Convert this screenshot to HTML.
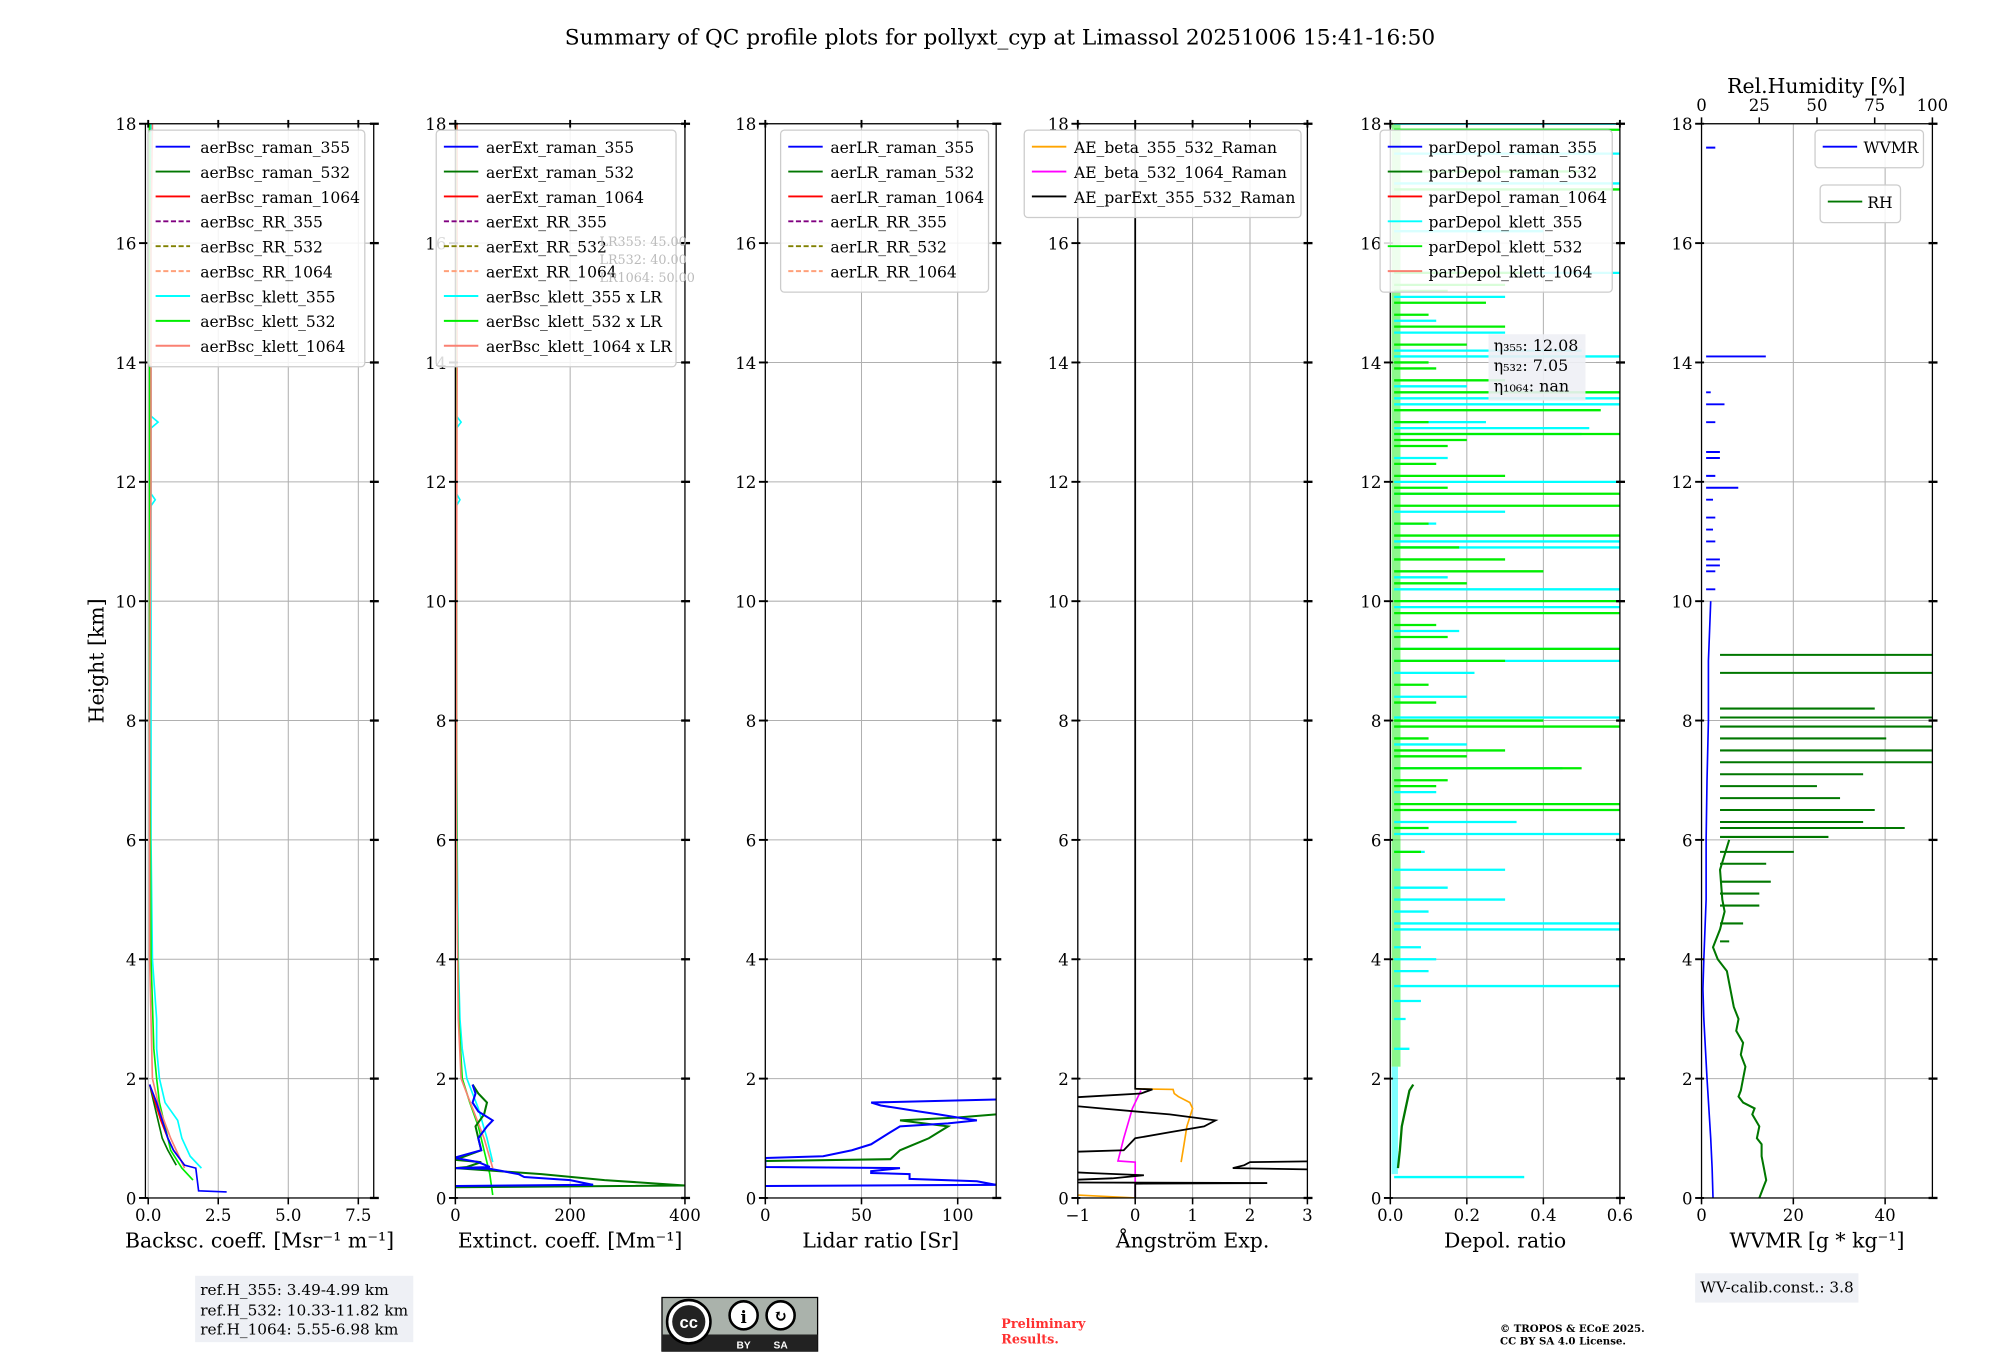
<!DOCTYPE html>
<html><head><meta charset="utf-8"><style>
html,body{margin:0;padding:0;background:#fff;}
svg{display:block;font-family:"DejaVu Serif","Liberation Serif",serif;}
</style></head><body>
<svg id="fig" width="2000" height="1360" viewBox="0 0 1568 1066" preserveAspectRatio="none" xmlns="http://www.w3.org/2000/svg">
<text x="784" y="35" font-size="17" text-anchor="middle">Summary of QC profile plots for pollyxt_cyp at Limassol 20251006 15:41-16:50</text>
<g id="plots"></g>
<text transform="translate(81,518) rotate(-90)" font-size="16" text-anchor="middle">Height [km]</text>
<g>
<rect x="153" y="1000" width="171" height="52" fill="#eef0f5"/>
<text x="157" y="1015" font-size="12">ref.H_355: 3.49-4.99 km</text>
<text x="157" y="1031" font-size="12">ref.H_532: 10.33-11.82 km</text>
<text x="157" y="1046" font-size="12">ref.H_1064: 5.55-6.98 km</text>
</g>
<g>
<rect x="519" y="1017" width="122" height="42" fill="#aab2ab" stroke="#000" stroke-width="1"/>
<rect x="519" y="1046" width="122" height="13" fill="#222"/>
<circle cx="540" cy="1036" r="17" fill="#fff" stroke="#000" stroke-width="2"/>
<circle cx="540" cy="1036" r="13" fill="#222"/>
<text x="540" y="1041" font-size="13" fill="#fff" text-anchor="middle" font-family="Liberation Sans, sans-serif" font-weight="bold">cc</text>
<circle cx="583" cy="1031" r="11" fill="#fff" stroke="#000" stroke-width="2"/>
<text x="583" y="1037" font-size="13" text-anchor="middle" font-weight="bold">i</text>
<circle cx="612" cy="1031" r="11" fill="#fff" stroke="#000" stroke-width="2"/>
<text x="612" y="1036" font-size="13" text-anchor="middle" font-weight="bold">↻</text>
<text x="583" y="1057" font-size="8" fill="#fff" text-anchor="middle" font-family="Liberation Sans, sans-serif" font-weight="bold">BY</text>
<text x="612" y="1057" font-size="8" fill="#fff" text-anchor="middle" font-family="Liberation Sans, sans-serif" font-weight="bold">SA</text>
</g>
<text x="785" y="1041" font-size="10" fill="#ff3030" font-weight="bold">Preliminary</text>
<text x="785" y="1053" font-size="10" fill="#ff3030" font-weight="bold">Results.</text>
<text x="1176" y="1044" font-size="8" font-weight="bold">© TROPOS &amp; ECoE 2025.</text>
<text x="1176" y="1054" font-size="8" font-weight="bold">CC BY SA 4.0 License.</text>
<g>
<rect x="1329" y="998" width="128" height="23" fill="#eef0f5"/>
<text x="1333" y="1013" font-size="12">WV-calib.const.: 3.8</text>
</g>
</svg>
<script>
// ---------- data ----------
const heightTicks=[0,2,4,6,8,10,12,14,16,18];
const bscTicks=[0,2.5,5,7.5]; const bscTickLabels=["0.0","2.5","5.0","7.5"];
const extTicks=[0,200,400]; const lrTicks=[0,50,100]; const aeTicks=[-1,0,1,2,3];
const aeTickLabels=["−1","0","1","2","3"];
const dpTicks=[0,0.2,0.4,0.6]; const dpTickLabels=["0.0","0.2","0.4","0.6"];
const wvTicks=[0,20,40]; const rhTicks=[0,25,50,75,100];

const bsc355H=[0.1,0.12,0.5,0.55,0.8,1.0,1.3,1.6,1.9]; const bsc355V=[2.8,1.8,1.7,1.3,0.9,0.7,0.5,0.3,0.05];
const bsc532H=[0.55,0.8,1.0,1.3,1.6,1.9]; const bsc532V=[1.0,0.7,0.5,0.35,0.2,0.05];
const bsc1064H=[0.55,0.8,1.0,1.3,1.6,1.9]; const bsc1064V=[1.3,0.9,0.7,0.45,0.25,0.05];
const bscK355H=[0.5,0.7,1.0,1.3,1.6,2.0,2.5,3,4,6,8,10,11.6,11.7,11.8,12.9,13.0,13.1,14,16,18];
const bscK355V=[1.9,1.5,1.2,1.05,0.6,0.4,0.3,0.3,0.15,0.1,0.1,0.1,0.1,0.25,0.1,0.1,0.35,0.1,0.1,0.1,0.1];
const bscK532H=[0.3,0.5,0.8,1.2,1.6,2.0,2.5,4,8,12,18]; const bscK532V=[1.6,1.2,0.8,0.6,0.4,0.3,0.2,0.1,0.05,0.05,0.05];
const bscK1064H=[0.5,1.0,1.5,2,4,8,12,16,18]; const bscK1064V=[1.3,0.8,0.4,0.15,0.05,0.05,0.1,0.1,0.15];

const ext355H=[0.2,0.22,0.3,0.35,0.4,0.49,0.5,0.52,0.6,0.67,0.68,0.8,1.0,1.2,1.3,1.45,1.6,1.75,1.9];
const ext355V=[0,240,200,120,110,60,0,60,40,0,0,45,40,55,65,40,30,35,30];
const ext532H=[0.18,0.21,0.3,0.4,0.5,0.52,0.6,0.64,0.8,1.0,1.2,1.4,1.6,1.75,1.9];
const ext532V=[0,400,260,150,0,20,45,0,45,40,35,50,55,40,30];
const extK355H=[0.6,1.0,1.5,2.0,2.5,3,4,6,8,10,11.6,11.7,11.8,12.9,13.0,13.1,14,18];
const extK355V=[65,55,40,20,12,8,5,3,2,2,2,8,2,2,10,2,2,2];
const extK532H=[0.05,0.4,0.8,1.2,1.6,2,3,5,8,12,18]; const extK532V=[65,60,50,40,25,12,6,3,2,2,2];
const extK1064H=[0.5,1.0,1.5,2,3,6,10,14,18]; const extK1064V=[65,50,30,10,5,2,2,3,3];

const lr355H=[0.2,0.22,0.28,0.32,0.4,0.42,0.45,0.5,0.52,0.67,0.7,0.8,0.9,1.0,1.1,1.2,1.25,1.3,1.35,1.4,1.45,1.55,1.6,1.65];
const lr355V=[0,120,110,75,75,55,55,70,0,0,30,45,55,60,65,70,95,110,100,90,80,60,55,120];
const lr532H=[0.62,0.65,0.8,1.0,1.1,1.2,1.3,1.35,1.4]; const lr532V=[0,65,70,85,90,95,70,100,120];

const aeParH=[0,0.24,0.25,0.26,0.3,0.33,0.38,0.42,0.45,null,0.47,0.5,0.55,0.6,0.62,null,0.76,0.8,0.9,1.0,1.1,1.2,1.3,1.4,1.5,1.58,1.66,1.75,1.82,1.83,18];
const aeParV=[0,0,2.3,-1.5,-1.2,-0.4,0.15,-0.8,-1.5,null,3.5,1.7,1.9,2.0,3.5,null,-1.5,-0.2,-0.1,0,0.6,1.2,1.4,0.6,-0.6,-1.5,-1.5,0.1,0.3,0,0];
const ae355H=[0,0.05,null,0.6,0.9,1.2,1.5,1.6,1.7,1.75,1.82,1.83]; const ae355V=[0,-1,null,0.8,0.85,0.9,1.0,0.95,0.75,0.68,0.66,0.0];
const ae532H=[0,0.45,0.6,0.62,1.0,1.5,1.8]; const ae532V=[0,0,0,-0.3,-0.2,-0.05,0.1];

const dpRamanH=[0.5,0.8,1.2,1.5,1.8,1.9]; const dpRamanV=[0.02,0.025,0.03,0.04,0.05,0.06];
const dpK355H=[0.35,3.55,4.5,4.6,5.0,5.5,6.1,6.3,7.2,8.05,8.4,9.0,9.2,9.9,10.2,10.9,11.0,11.5,12.0,12.8,12.9,13.3,13.4,14.1,14.2,14.5,15.5,16.2,17.0,17.5,18.0];
const dpK355V=[0.35,0.6,0.6,0.6,0.3,0.3,0.6,0.33,0.45,0.6,0.2,0.6,0.6,0.6,0.6,0.6,0.6,0.3,0.6,0.5,0.52,0.6,0.6,0.6,0.5,0.3,0.6,0.4,0.6,0.6,0.6];
const dpK355SmallH=[2.5,3.0,3.3,3.8,4.0,4.2,4.8,5.2,5.8,6.8,7.6,8.8,9.5,10.4,11.3,11.8,12.4,13.0,13.6,14.7,15.1];
const dpK355SmallV=[0.05,0.04,0.08,0.1,0.12,0.08,0.1,0.15,0.09,0.12,0.2,0.22,0.18,0.15,0.12,0.2,0.15,0.25,0.2,0.12,0.3];
const dpK532H=[6.5,6.6,7.2,7.5,7.9,8.0,9.0,9.2,9.8,10.0,10.5,10.7,11.1,11.6,11.8,12.1,12.8,13.2,13.5,13.7,14.3,14.6,15.0,15.3,15.5,16.9,17.2,17.9];
const dpK532V=[0.6,0.6,0.5,0.3,0.6,0.4,0.3,0.6,0.6,0.6,0.4,0.3,0.6,0.6,0.6,0.3,0.6,0.55,0.6,0.3,0.2,0.3,0.25,0.3,0.35,0.6,0.5,0.6];
const dpK532SmallH=[5.8,6.2,6.9,7.0,7.4,7.7,8.3,8.6,9.4,9.6,10.3,10.9,11.3,11.9,12.3,12.6,12.7,13.0,13.9,14.0,14.8,15.2];
const dpK532SmallV=[0.08,0.1,0.12,0.15,0.2,0.1,0.12,0.1,0.15,0.12,0.2,0.18,0.1,0.15,0.12,0.15,0.2,0.1,0.12,0.1,0.1,0.15];

const wvH=[0,0.5,1,2,3,3.5,4,5,6,7,8,9,10]; const wvV=[2.5,2.3,2,1.2,0.5,0.3,0.5,1,1,1.2,1.5,1.5,2];
const wvSegH=[10.2,10.5,10.6,10.7,11.0,11.2,11.4,11.7,11.9,12.1,12.4,12.5,13.0,13.3,13.5,14.1,15.5,17.6];
const wvSegV=[3,3,4,4,3,2.5,3,2.5,8,3,4,4,3,5,2,14,1,3];
const rhH=[0,0.1,0.2,0.3,0.5,0.7,0.9,1.0,1.2,1.4,1.5,1.6,1.7,1.8,2.0,2.2,2.4,2.6,2.8,3.0,3.2,3.4,3.6,3.8,4.0,4.2,4.5,4.8,5.0,5.5,6];
const rhV=[25,26,27,28,27,26,26,24,25,22,23,18,16,17,18,19,17,18,15,16,14,13,12,11,7,5,8,10,9,8,12];
const rhSpkH=[4.3,4.6,4.9,5.1,5.3,5.6,5.8,6.05,6.2,6.3,6.5,6.7,6.9,7.1,7.3,7.5,7.7,7.9,8.05,8.2,8.8,9.1];
const rhSpkV=[12,18,25,25,30,28,40,55,88,70,75,60,50,70,100,100,80,100,100,75,100,100];

const P=[
 {name:'backscatter',x0:114,x1:293,lo:-0.1,hi:8.05,ticks:bscTicks,labels:bscTickLabels,xlabel:'Backsc. coeff. [Msr⁻¹ m⁻¹]'},
 {name:'extinction',x0:357,x1:537,lo:0,hi:400,ticks:extTicks,labels:extTicks.map(String),xlabel:'Extinct. coeff. [Mm⁻¹]'},
 {name:'lidar-ratio',x0:600,x1:781,lo:0,hi:120,ticks:lrTicks,labels:lrTicks.map(String),xlabel:'Lidar ratio [Sr]'},
 {name:'angstrom',x0:845,x1:1025,lo:-1,hi:3,ticks:aeTicks,labels:aeTickLabels,xlabel:'Ångström Exp.'},
 {name:'depol',x0:1090,x1:1270,lo:0,hi:0.6,ticks:dpTicks,labels:dpTickLabels,xlabel:'Depol. ratio'},
 {name:'wvmr',x0:1334,x1:1515,lo:0,hi:50.3,ticks:wvTicks,labels:wvTicks.map(String),xlabel:'WVMR [g * kg⁻¹]'}
];
const Y0=939,Y1=97;
function py(h){return Y0-(h/18)*(Y0-Y1);}
function px(p,v){return p.x0+(v-p.lo)/(p.hi-p.lo)*(p.x1-p.x0);}
const NS='http://www.w3.org/2000/svg';
const root=document.getElementById('plots');
function mk(tag,attrs,parent){const e=document.createElementNS(NS,tag);for(const k in attrs)e.setAttribute(k,attrs[k]);(parent||root).appendChild(e);return e;}
function pathFrom(p,H,V){let d='',pen=false;for(let i=0;i<H.length;i++){if(H[i]===null||V[i]===null){pen=false;continue;}d+=(pen?'L':'M')+px(p,V[i]).toFixed(1)+','+py(H[i]).toFixed(1);pen=true;}return d;}
function spikes(p,H,V,base){let d='';for(let i=0;i<H.length;i++){d+='M'+px(p,base).toFixed(1)+','+py(H[i]).toFixed(1)+'L'+px(p,V[i]).toFixed(1)+','+py(H[i]).toFixed(1);}return d;}
function line(g,p,H,V,color,w,nm){const e=mk('path',{d:pathFrom(p,H,V),fill:'none',stroke:color,'stroke-width':w||1.3,'clip-path':'url(#clip'+P.indexOf(p)+')'},g);

return e;}
function spkPath(g,p,H,V,color,w,nm){const e=mk('path',{d:spikes(p,H,V,0.01),fill:'none',stroke:color,'stroke-width':w,'clip-path':'url(#clip'+P.indexOf(p)+')'},g);

}
const defs=mk('defs',{});
P.forEach((p,i)=>{const c=mk('clipPath',{id:'clip'+i},defs);mk('rect',{x:p.x0,y:Y1,width:p.x1-p.x0,height:Y0-Y1},c);});

P.forEach((p,i)=>{
 const g=mk('g',{});
 
 
 heightTicks.forEach(h=>{mk('line',{x1:p.x0,x2:p.x1,y1:py(h),y2:py(h),stroke:'#b0b0b0','stroke-width':0.8},g);});
 p.ticks.forEach(t=>{mk('line',{x1:px(p,t),x2:px(p,t),y1:Y1,y2:Y0,stroke:'#b0b0b0','stroke-width':0.8},g);});
 p.g=g;
});

let p=P[0],g=p.g;
line(g,p,bscK355H,bscK355V,'#00ffff',1.3,'bsc-klett-355');
line(g,p,bscK532H,bscK532V,'#00ee00',1.3,'bsc-klett-532');
line(g,p,bscK1064H,bscK1064V,'#fa8072',1.3,'bsc-klett-1064');
line(g,p,bsc532H,bsc532V,'#007700',1.3,'bsc-raman-532');
line(g,p,bsc1064H,bsc1064V,'#ff0000',1.3,'bsc-raman-1064');
line(g,p,bsc355H,bsc355V,'#0000ff',1.3,'bsc-raman-355');
p=P[1];g=p.g;
line(g,p,extK355H,extK355V,'#00ffff',1.3,'ext-klett-355');
line(g,p,extK532H,extK532V,'#00ee00',1.3,'ext-klett-532');
line(g,p,extK1064H,extK1064V,'#fa8072',1.3,'ext-klett-1064');
line(g,p,ext532H,ext532V,'#007700',1.6,'ext-raman-532');
line(g,p,ext355H,ext355V,'#0000ff',1.6,'ext-raman-355');
p=P[2];g=p.g;
line(g,p,lr532H,lr532V,'#007700',1.6,'lr-raman-532');
line(g,p,lr355H,lr355V,'#0000ff',1.6,'lr-raman-355');
p=P[3];g=p.g;
line(g,p,ae355H,ae355V,'#ffa500',1.3,'ae-beta-355-532');
line(g,p,ae532H,ae532V,'#ff00ff',1.3,'ae-beta-532-1064');
line(g,p,aeParH,aeParV,'#000000',1.4,'ae-parext-355-532');
p=P[4];g=p.g;
(function(){const b=mk('rect',{x:1091,y:py(18),width:7,height:py(2.2)-py(18),fill:'#00ee00',opacity:0.45},g);


const c=mk('rect',{x:1091,y:py(2.2),width:5,height:py(0.4)-py(2.2),fill:'#00ffff',opacity:0.5},g);

})();
spkPath(g,p,dpK355SmallH,dpK355SmallV,'#00ffff',1.8,'depol-klett-355-small');
spkPath(g,p,dpK355H,dpK355V,'#00ffff',1.8,'depol-klett-355');
spkPath(g,p,dpK532SmallH,dpK532SmallV,'#00ee00',1.8,'depol-klett-532-small');
spkPath(g,p,dpK532H,dpK532V,'#00ee00',1.8,'depol-klett-532');
line(g,p,dpRamanH,dpRamanV,'#007700',1.8,'depol-raman-532');
p=P[5];g=p.g;
line(g,p,wvH,wvV,'#0000ff',1.3,'wvmr-line');
(function(){let d='';for(let i=0;i<wvSegH.length;i++){d+='M'+px(p,1).toFixed(1)+','+py(wvSegH[i]).toFixed(1)+'L'+px(p,wvSegV[i]).toFixed(1)+','+py(wvSegH[i]).toFixed(1);}
const e=mk('path',{d:d,fill:'none',stroke:'#0000ff','stroke-width':1.5},g);


const pr={x0:1334,x1:1515,lo:0,hi:100};
let d2='';for(let i=0;i<rhH.length;i++){d2+=(i?'L':'M')+px(pr,rhV[i]).toFixed(1)+','+py(rhH[i]).toFixed(1);}
for(let i=0;i<rhSpkH.length;i++){d2+='M'+px(pr,8).toFixed(1)+','+py(rhSpkH[i]).toFixed(1)+'L'+px(pr,rhSpkV[i]).toFixed(1)+','+py(rhSpkH[i]).toFixed(1);}
const r=mk('path',{d:d2,fill:'none',stroke:'#007700','stroke-width':1.6,'clip-path':'url(#clip5)'},g);


rhTicks.forEach(t=>{const x=px(pr,t);mk('line',{x1:x,x2:x,y1:Y1,y2:Y1-5,stroke:'#000','stroke-width':1.2},g);
const tl=mk('text',{x:x,y:87,'font-size':13,'text-anchor':'middle'},g);tl.textContent=t;

});
const rt=mk('text',{x:1424,y:73,'font-size':16,'text-anchor':'middle'},g);rt.textContent='Rel.Humidity [%]';

})();

P.forEach((p,i)=>{const g=p.g;
 mk('rect',{x:p.x0,y:Y1,width:p.x1-p.x0,height:Y0-Y1,fill:'none',stroke:'#000','stroke-width':1},g);
 heightTicks.forEach(h=>{const y=py(h);
  mk('line',{x1:p.x0-5,x2:p.x0+2,y1:y,y2:y,stroke:'#000','stroke-width':1.5},g);
  mk('line',{x1:p.x1-3,x2:p.x1+4,y1:y,y2:y,stroke:'#000','stroke-width':1.8},g);
  const t=mk('text',{x:p.x0-7,y:y+5,'font-size':13,'text-anchor':'end'},g);t.textContent=h;
  
  });
 p.ticks.forEach((t,k)=>{const x=px(p,t);
  mk('line',{x1:x,x2:x,y1:Y0,y2:Y0+5,stroke:'#000','stroke-width':1.2},g);
  if(i<5) mk('line',{x1:x,x2:x,y1:Y1-3,y2:Y1+3,stroke:'#000','stroke-width':1.5},g);
  const tl=mk('text',{x:x,y:Y0+18,'font-size':13,'text-anchor':'middle'},g);tl.textContent=p.labels[k];
  
  });
 const xl=mk('text',{x:(p.x0+p.x1)/2,y:978,'font-size':16,'text-anchor':'middle'},g);xl.textContent=p.xlabel;
 
 
});

function legend(x,y,w,entries,textX){const g=mk('g',{});
 
 
 mk('rect',{x:x,y:y,width:w,height:entries.length*19.5+10,rx:3,fill:'#fff','fill-opacity':0.85,stroke:'#cccccc','stroke-width':1},g);
 entries.forEach((e,k)=>{const yy=y+13+k*19.5;
  const l=mk('line',{x1:x+6,x2:x+33,y1:yy,y2:yy,stroke:e[1],'stroke-width':1.5},g);
  if(e[2])l.setAttribute('stroke-dasharray','4,2');
  const t=mk('text',{x:x+textX,y:yy+5,'font-size':12.2},g);t.textContent=e[0];
  
  });}
legend(116,102,170,[['aerBsc_raman_355','#0000ff'],['aerBsc_raman_532','#007700'],['aerBsc_raman_1064','#ff0000'],['aerBsc_RR_355','#800080',1],['aerBsc_RR_532','#808000',1],['aerBsc_RR_1064','#ffa07a',1],['aerBsc_klett_355','#00ffff'],['aerBsc_klett_532','#00ee00'],['aerBsc_klett_1064','#fa8072']],41);
legend(342,102,188,[['aerExt_raman_355','#0000ff'],['aerExt_raman_532','#007700'],['aerExt_raman_1064','#ff0000'],['aerExt_RR_355','#800080',1],['aerExt_RR_532','#808000',1],['aerExt_RR_1064','#ffa07a',1],['aerBsc_klett_355 x LR','#00ffff'],['aerBsc_klett_532 x LR','#00ee00'],['aerBsc_klett_1064 x LR','#fa8072']],39);
legend(612,102,163,[['aerLR_raman_355','#0000ff'],['aerLR_raman_532','#007700'],['aerLR_raman_1064','#ff0000'],['aerLR_RR_355','#800080',1],['aerLR_RR_532','#808000',1],['aerLR_RR_1064','#ffa07a',1]],39);
legend(803,102,217,[['AE_beta_355_532_Raman','#ffa500'],['AE_beta_532_1064_Raman','#ff00ff'],['AE_parExt_355_532_Raman','#000000']],39);
legend(1082,102,182,[['parDepol_raman_355','#0000ff'],['parDepol_raman_532','#007700'],['parDepol_raman_1064','#ff0000'],['parDepol_klett_355','#00ffff'],['parDepol_klett_532','#00ee00'],['parDepol_klett_1064','#fa8072']],38);
legend(1423,102,85,[['WVMR','#0000ff']],38);
legend(1427,145,63,[['RH','#007700']],37);

(function(){const g=mk('g',{});


[['LR355: 45.00',193],['LR532: 40.00',207],['LR1064: 50.00',221]].forEach(a=>{const t=mk('text',{x:470,y:a[1],'font-size':10,fill:'#bbbbbb'},g);t.textContent=a[0];});
const e=mk('g',{});


mk('rect',{x:1167,y:262,width:76,height:52,fill:'#eef0f5','fill-opacity':0.9},e);
[['η₃₅₅: 12.08',275],['η₅₃₂: 7.05',291],['η₁₀₆₄: nan',307]].forEach(a=>{const t=mk('text',{x:1171,y:a[1],'font-size':12.5},e);t.textContent=a[0];});})();
</script>
</body></html>
